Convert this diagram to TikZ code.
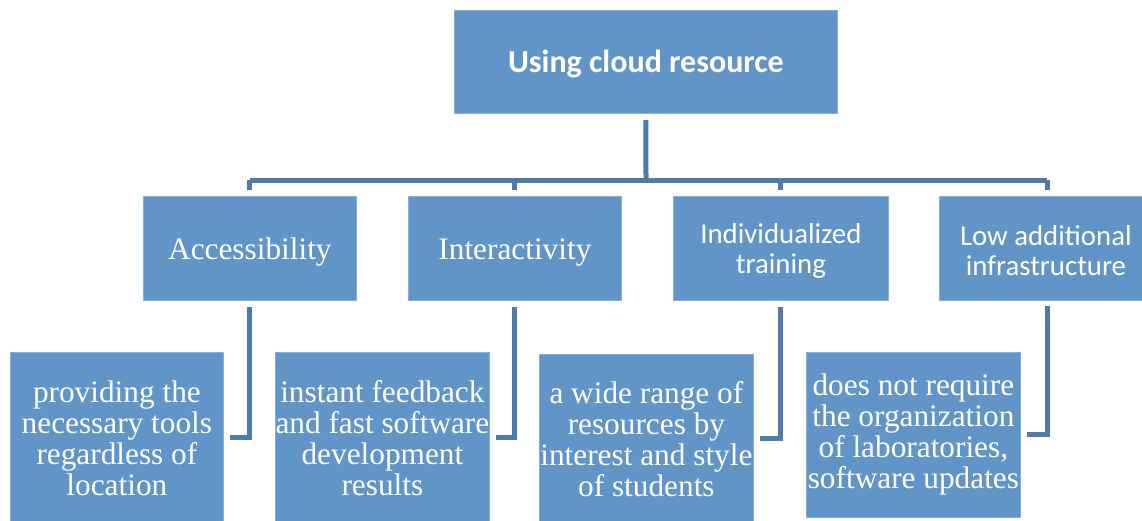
\documentclass[tikz,border=0pt]{standalone}
\usepackage{fontspec}
\setmainfont{Liberation Serif}
\newfontfamily\carlito{Carlito}
\definecolor{boxfill}{RGB}{97,149,200}
\definecolor{boxedge}{RGB}{135,175,215}
\definecolor{linkcol}{RGB}{79,122,170}
\begin{document}
\begin{tikzpicture}[x=1pt,y=-1pt,
  box/.style={fill=boxfill,draw=boxedge,line width=0.8pt,inner sep=0pt,anchor=north west},
  serif/.style={text=white,align=center,inner sep=0pt,font=\fontsize{31.3}{31}\selectfont},
  sans/.style={text=white,align=center,inner sep=0pt,font=\carlito\fontsize{28.8}{30}\selectfont},
  link/.style={draw=linkcol,line width=5pt}]
\useasboundingbox (0,0) rectangle (1142,520);
\clip (0,0) rectangle (1142,520);
% top
\node[box,minimum width=383pt,minimum height=103pt] (top) at (454,10) {};
\node[text=white,inner sep=0pt,font=\carlito\bfseries\fontsize{32}{34}\selectfont] (toptext) at ([yshift=-2.5pt]top.center) {Using cloud resource};
% level 2
\node[box,minimum width=213pt,minimum height=104pt] (acc) at (143,196) {};
\node[box,minimum width=213pt,minimum height=104pt] (int) at (408,196) {};
\node[box,minimum width=215pt,minimum height=104pt] (ind) at (673,196) {};
\node[box,minimum width=215pt,minimum height=104pt] (low) at (939,196) {};
\node[serif] (acctext) at ([yshift=-4pt]acc.center) {Accessibility};
\node[serif] (inttext) at ([yshift=-4pt]int.center) {Interactivity};
\node[sans] (indtext) at ([yshift=-3pt]ind.center) {Individualized\\training};
\node[sans] (lowtext) at ([xshift=-1pt,yshift=-2pt]low.center) {Low additional\\infrastructure};
% level 3
\node[box,minimum width=213pt,minimum height=170pt] (p1) at (10,352) {};
\node[box,minimum width=214pt,minimum height=170pt] (p2) at (275,352) {};
\node[box,minimum width=214pt,minimum height=168pt] (p3) at (539,354) {};
\node[box,minimum width=214pt,minimum height=165pt] (p4) at (806,352) {};
\node[serif] (p1text) at ([yshift=-0.5pt]p1.center) {providing the\\necessary tools\\regardless of\\location};
\node[serif] (p2text) at ([yshift=-0.5pt]p2.center) {instant feedback\\and fast software\\development\\results};
\node[serif] (p3text) at ([yshift=-0.5pt]p3.center) {a wide range of\\resources by\\interest and style\\of students};
\node[serif] (p4text) at (p4.center) {does not require\\the organization\\of laboratories,\\software updates};
% connectors
\coordinate (bar) at (646,180);
\coordinate (lowdrop) at (1047,180);
\coordinate (lowtop) at (1047,306);
\draw[link] ([yshift=-6pt]top.south) -- (bar);
\draw[link] (acc.north |- bar) -- (lowdrop);
\draw[link] (acc.north |- bar) -- ([yshift=6pt]acc.north);
\draw[link] (int.north |- bar) -- ([yshift=6pt]int.north);
\draw[link] (ind.north |- bar) -- ([yshift=6pt]ind.north);
\draw[link] (lowdrop) -- (lowdrop |- 0,190);
\draw[link] ([yshift=-6pt]acc.south) |- ([xshift=6pt]p1.east);
\draw[link] ([yshift=-6pt]int.south) |- ([xshift=6pt]p2.east);
\draw[link] ([yshift=-6pt]ind.south) |- ([xshift=6pt]p3.east);
\draw[link] (lowtop) |- ([xshift=6pt]p4.east);
\end{tikzpicture}
\end{document}
